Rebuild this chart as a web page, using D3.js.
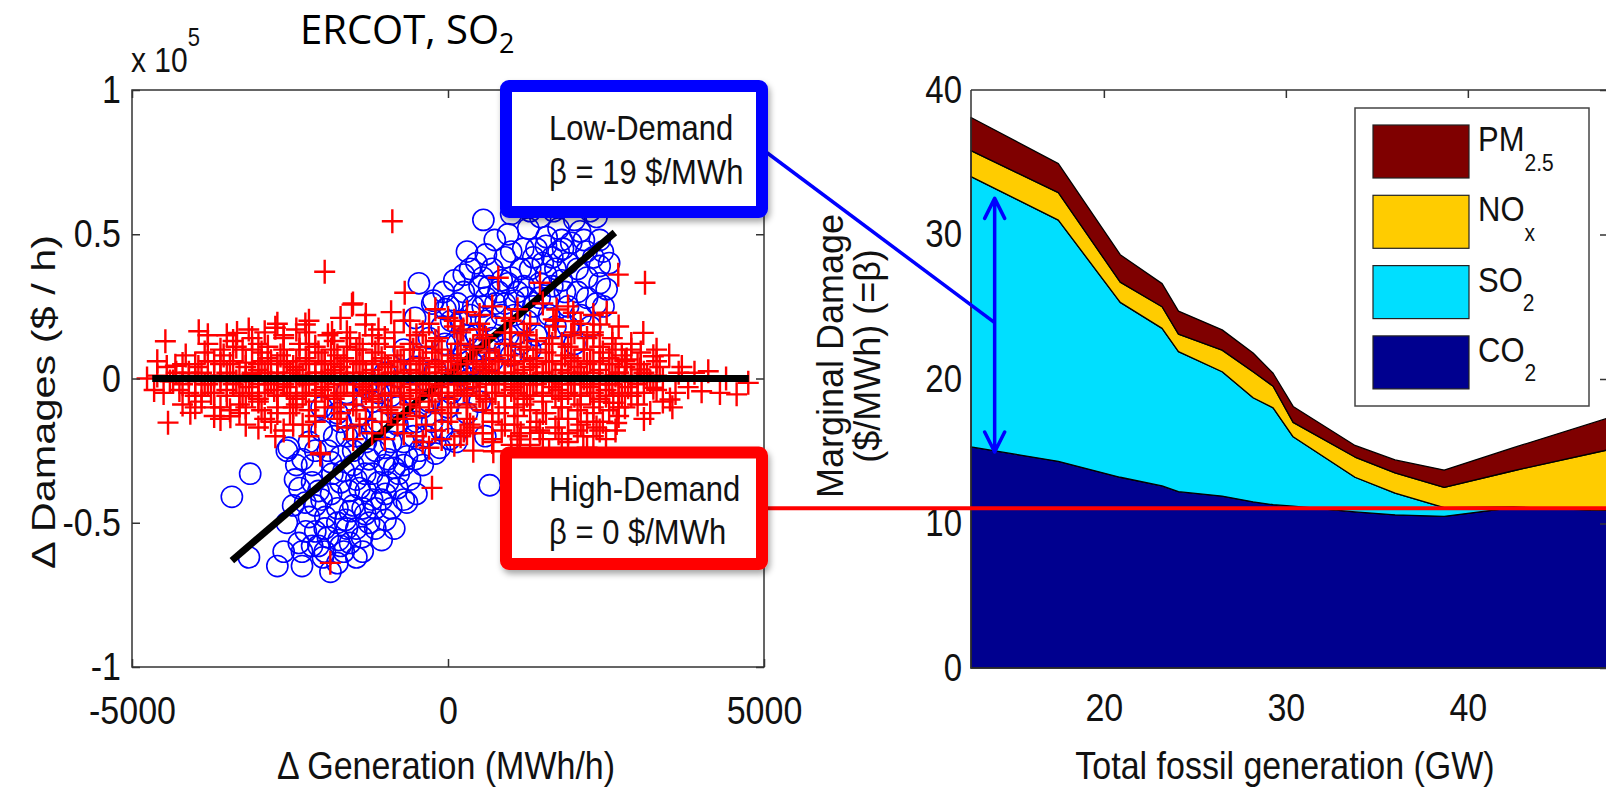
<!DOCTYPE html>
<meta charset="utf-8">
<style>
  body { margin: 0; background: #fff; }
  svg { display: block; }
  .mat { font-family: "Liberation Sans", Arial, Helvetica, sans-serif; fill: #111; }
  .ppt { font-family: "Open Sans", "Liberation Sans", sans-serif; fill: #000; }
</style>
<script src="https://d3js.org/d3.v7.min.js"></script>
<div id="chart"></div>
<script>

// ---------------- data ----------------
// left panel: change in generation (MWh/h) vs change in damages (x 1e5 $/h)
var genTicks = [-5000, 0, 5000];
var dmgTicks = [-1, -0.5, 0, 0.5, 1];

// low-demand hours (blue circles)
var lowDemandPts = [
  [-3420,-0.41],[-3130,-0.33],[-3150,-0.62],[-2700,-0.65],[-2310,-0.65],[-1860,-0.67],[-2310,-0.60],[-2360,-0.57],
  [-2100,-0.53],[-1730,-0.56],[-1360,-0.55],[-990,-0.49],[-650,-0.43],[-200,-0.26],[-2420,-0.35],[-2260,-0.43],
  [-1940,-0.48],[-1620,-0.49],[-1310,-0.47],[-990,-0.40],[-1570,-0.39],[-2050,-0.39],[-1830,-0.33],[-1310,-0.33],
  [-780,-0.33],[-520,-0.28],[-2150,-0.30],[-2550,-0.25],[-2550,-0.50],[-2520,-0.24],[-2200,-0.22],
  [-1980,-0.62],[-1650,-0.60],[-1450,-0.52],[-1750,-0.45],[-1500,-0.44],[-1200,-0.42],[-1100,-0.36],[-1400,-0.38],
  [-1700,-0.36],[-2000,-0.42],[-2200,-0.48],[-1900,-0.55],[-1600,-0.52],[-1250,-0.50],[-900,-0.45],[-800,-0.38],
  [-600,-0.35],[-1000,-0.30],[-1250,-0.28],[-1500,-0.30],[-1700,-0.27],[-1900,-0.25],[-2300,-0.28],[-2000,-0.18],
  [-1600,-0.20],[-1300,-0.22],[-1000,-0.24],[-700,-0.22],[-400,-0.30],[-350,-0.20],[-500,-0.15],[-800,-0.16],
  [-1100,-0.15],[-1400,-0.13],[-1750,-0.12],
  [-1200,-0.08],[-900,-0.06],[-600,-0.05],[-300,-0.08],[0,-0.10],[-100,-0.18],[130,-0.22],[30,-0.21],[-130,-0.24],
  [590,-0.20],[660,-0.37],[300,-0.12],[500,-0.08],[200,0.02],[-200,0.03],[400,0.05],[700,0.06],[-500,0.04],[900,0.10],
  [-460,0.33],[-70,0.30],[-230,0.27],[10,0.25],[-520,0.21],[-250,0.26],[-40,0.24],[300,0.44],[560,0.55],[740,0.48],
  [350,0.38],[1270,0.52],[1560,0.49],[2090,0.51],[2400,0.48],[1190,0.45],[1820,0.45],[2190,0.44],[2400,0.39],
  [2510,0.31],[2350,0.26],[2460,0.25],[2250,0.18],[1670,0.58],[2250,0.58],[1460,0.56],[2350,0.56],[2640,0.62],
  [600,0.43],[900,0.42],[1000,0.35],[1300,0.38],[1550,0.36],[1800,0.34],[2050,0.30],[2200,0.35],[1900,0.40],
  [1650,0.42],[1400,0.45],[1100,0.30],[800,0.30],[600,0.28],[400,0.25],[200,0.20],[-100,0.18],[150,0.12],
  [450,0.15],[750,0.18],[1050,0.22],[1350,0.25],[1600,0.28],[1900,0.25],[2100,0.22],[1700,0.18],[1400,0.15],
  [1150,0.12],[850,0.22],[550,0.35],[950,0.50],[1750,0.52],[2000,0.55],[1300,0.58],[2450,0.44],[2550,0.40],
  [1000,0.57],[1900,0.60],[2150,0.62],
  [300,0.15],[600,0.20],[900,0.26],[1200,0.32],[1500,0.40],[1800,0.48],[700,0.38],[1000,0.44],[1250,0.28],
  [1450,0.33],[1700,0.38],[500,0.32],[250,0.30],[100,0.34],[-300,0.14],[-700,0.10],[-1000,0.02],[-1300,-0.03],
  [-1600,-0.05],[-2000,-0.10],[-1800,-0.20],[-1500,-0.25],[-1200,-0.33],[-950,-0.28],[-650,-0.27],[-450,-0.25],
  [-250,-0.15],[50,-0.05],[350,0.00],[650,0.10],[950,0.15],[-850,-0.52],[-1050,-0.56],[-1450,-0.62],[-1750,-0.64],
  [-2050,-0.58],[-2600,-0.60],[-2450,-0.44],[-2350,-0.38],[-1150,-0.45],[-700,-0.42],[-500,-0.40],
  [350,0.22],[550,0.25],[750,0.26],[950,0.33],[1150,0.38],[1350,0.42],[1550,0.46],[1750,0.44],[1950,0.47],
  [2150,0.48],[2300,0.42],[2050,0.38],[1850,0.30],[1650,0.32],[1450,0.28],[1250,0.20],[1050,0.27],[850,0.34],
  [650,0.32],[450,0.40],[250,0.36],[150,0.26],[-50,0.12],[50,0.20],[250,0.08],[450,0.10],[700,0.14],[1000,0.08],
  [1300,0.10],[1600,0.22],[1900,0.18],[2200,0.28],[2400,0.33],[2000,0.12],
  [-2150,-0.58],[-1950,-0.52],[-1750,-0.50],[-1550,-0.57],[-1350,-0.60],[-1150,-0.52],[-950,-0.36],[-1150,-0.25],
  [-1350,-0.45],[-1550,-0.46],[-1850,-0.40],[-2100,-0.44],[-2250,-0.53],[-1850,-0.29],[-1650,-0.32],[-1450,-0.35],
  [-1300,-0.39],[-1050,-0.42],[-850,-0.31],[-700,-0.30],[-550,-0.20],[-900,-0.22],[-1200,-0.18],[-1450,-0.20],
  [-1700,-0.15],[-2100,-0.25],[-2400,-0.30],[-2150,-0.36],[-1950,-0.60],[-1700,-0.58],[-800,-0.10],[-1100,-0.05],
  [-400,-0.10]
];

// high-demand hours (red pluses)
var highDemandPts = [
  // scattered outliers
  [-881,0.545],[-1951,0.37],[-1503,0.26],[-685,0.297],[796,0.349],[1455,0.332],[2694,0.36],[3117,0.332],
  [1719,0.239],[1983,0.228],[2511,0.228],[-4472,0.129],[-3944,0.164],[-1519,0.256],[-2257,0.187],[-1835,0.158],
  [-1308,0.187],[-3338,0.158],[-3153,0.17],[-2732,0.176],[-4762,0],[-4430,-0.153],[-4077,-0.119],[-3444,-0.131],
  [-2732,-0.2],[-2020,-0.258],[-4314,0.044],[4118,0.025],[4751,-0.015],[4013,-0.044],[4303,-0.05],[4567,-0.055],
  [3512,-0.073],[3249,-0.032],[3090,0.158],[3249,0.077],[3038,0.031],[2827,0.066],[2615,-0.084],[2669,-0.154],
  [2141,-0.2],[1455,-0.188],[1139,-0.211],[717,-0.252],[1666,0.205],[1983,0.199],[2405,0.187],[242,0.17],
  [981,0.158],[-2020,-0.263],[-253,-0.379],[-1862,-0.639],
  // dense band around zero
  [-4600,0.01],[-4350,-0.01],[-4100,0.02],[-3850,-0.02],[-3600,0.01],[-3350,-0.01],[-3100,0.02],[-2850,0.00],
  [-2600,-0.02],[-2350,0.01],[-2100,-0.01],[-1850,0.02],[-1600,0.00],[-1350,-0.02],[-1100,0.01],[-850,-0.01],
  [-600,0.02],[-350,0.00],[-100,-0.02],[150,0.01],[400,-0.01],[650,0.02],[900,0.00],[1150,-0.02],[1400,0.01],
  [1650,-0.01],[1900,0.02],[2150,0.00],[2400,-0.02],[2650,0.01],[2900,-0.01],[3150,0.01],[3400,0.00],[3650,0.02],
  [-4450,0.04],[-4200,0.05],[-3950,0.04],[-3700,0.06],[-3450,0.05],[-3200,0.04],[-2950,0.06],[-2700,0.05],
  [-2450,0.04],[-2200,0.06],[-1950,0.05],[-1700,0.04],[-1450,0.06],[-1200,0.05],[-950,0.04],[-700,0.06],
  [-450,0.05],[-200,0.04],[50,0.06],[300,0.05],[550,0.04],[800,0.06],[1050,0.05],[1300,0.04],[1550,0.06],
  [1800,0.05],[2050,0.04],[2300,0.06],[2550,0.05],[2800,0.04],[3050,0.05],[3350,0.04],
  [-4500,-0.05],[-4250,-0.04],[-4000,-0.06],[-3750,-0.05],[-3500,-0.04],[-3250,-0.06],[-3000,-0.05],[-2750,-0.04],
  [-2500,-0.06],[-2250,-0.05],[-2000,-0.04],[-1750,-0.06],[-1500,-0.05],[-1250,-0.04],[-1000,-0.06],[-750,-0.05],
  [-500,-0.04],[-250,-0.06],[0,-0.05],[250,-0.04],[500,-0.06],[750,-0.05],[1000,-0.04],[1250,-0.06],[1500,-0.05],
  [1750,-0.04],[2000,-0.06],[2250,-0.05],[2500,-0.04],[2750,-0.06],[3000,-0.05],[3300,-0.04],[3600,-0.05],
  [-4150,0.08],[-3850,0.09],[-3550,0.08],[-3250,0.10],[-2950,0.09],[-2650,0.08],[-2350,0.10],[-2050,0.09],
  [-1750,0.08],[-1450,0.10],[-1150,0.09],[-850,0.08],[-550,0.10],[-250,0.09],[50,0.08],[350,0.10],[650,0.09],
  [950,0.08],[1250,0.10],[1550,0.09],[1850,0.08],[2150,0.10],[2450,0.09],[2750,0.08],[3050,0.09],
  [-4200,-0.09],[-3900,-0.08],[-3600,-0.10],[-3300,-0.09],[-3000,-0.08],[-2700,-0.10],[-2400,-0.09],[-2100,-0.08],
  [-1800,-0.10],[-1500,-0.09],[-1200,-0.08],[-900,-0.10],[-600,-0.09],[-300,-0.08],[0,-0.10],[300,-0.09],
  [600,-0.08],[900,-0.10],[1200,-0.09],[1500,-0.08],[1800,-0.10],[2100,-0.09],[2400,-0.08],[2700,-0.10],[3000,-0.09],
  [-3800,0.12],[-3400,0.13],[-3000,0.12],[-2600,0.14],[-2200,0.12],[-1800,0.13],[-1400,0.12],[-1000,0.14],
  [-600,0.12],[-200,0.13],[200,0.12],[600,0.14],[1000,0.12],[1400,0.13],[1800,0.12],[2200,0.14],[2600,0.12],
  [-3700,-0.13],[-3300,-0.12],[-2900,-0.14],[-2500,-0.12],[-2100,-0.13],[-1700,-0.12],[-1300,-0.14],[-900,-0.12],
  [-500,-0.13],[-100,-0.12],[300,-0.14],[700,-0.12],[1100,-0.13],[1500,-0.12],[1900,-0.14],[2300,-0.12],[2700,-0.13],
  [-2900,0.16],[-2400,0.17],[-1600,0.16],[-1100,0.17],[-400,0.16],[100,0.18],[500,0.17],[1200,0.16],[1700,0.18],
  [2000,0.16],[2300,0.15],
  [-3000,-0.17],[-2300,-0.16],[-1600,-0.17],[-800,-0.16],[-200,-0.18],[400,-0.17],[900,-0.16],[1700,-0.17],
  [2200,-0.15],[1300,-0.17],[-1200,-0.19],
  [0,0.21],[-600,0.20],[500,0.22],[1000,0.20],[-1000,-0.21],[-400,-0.22],[200,-0.20],[1000,-0.23],[1800,-0.21],
  [2400,-0.18],[-2600,-0.18],[-3800,0.15],[-4000,-0.1],[-4600,0.06],[-4650,-0.04],[3300,0.10],[3400,-0.08],
  [3200,-0.12],[3700,0.04],[3800,-0.03],[3900,0.02],[4400,0.00],[3550,-0.1],
  [-3000,0.03],[-2700,0.02],[-2400,0.03],[-2100,0.02],[-1800,0.03],[-1500,0.02],[-1200,0.03],[-900,0.02],
  [-600,0.03],[-300,0.02],[0,0.03],[300,0.02],[600,0.03],[900,0.02],[1200,0.03],[1500,0.02],[1800,0.03],
  [2100,0.02],[2400,0.03],[2700,0.02],
  [-3150,-0.03],[-2850,-0.02],[-2550,-0.03],[-2250,-0.02],[-1950,-0.03],[-1650,-0.02],[-1350,-0.03],[-1050,-0.02],
  [-750,-0.03],[-450,-0.02],[-150,-0.03],[150,-0.02],[450,-0.03],[750,-0.02],[1050,-0.03],[1350,-0.02],
  [1650,-0.03],[1950,-0.02],[2250,-0.03],[2550,-0.02],[2850,-0.03],
  [-2850,0.07],[-2550,0.06],[-2250,0.07],[-1950,0.06],[-1650,0.07],[-1350,0.06],[-1050,0.07],[-750,0.06],
  [-450,0.07],[-150,0.06],[150,0.07],[450,0.06],[750,0.07],[1050,0.06],[1350,0.07],[1650,0.06],[1950,0.07],
  [2250,0.06],[2550,0.07],
  [-3000,-0.07],[-2700,-0.06],[-2400,-0.07],[-2100,-0.06],[-1800,-0.07],[-1500,-0.06],[-1200,-0.07],[-900,-0.06],
  [-600,-0.07],[-300,-0.06],[0,-0.07],[300,-0.06],[600,-0.07],[900,-0.06],[1200,-0.07],[1500,-0.06],[1800,-0.07],
  [2100,-0.06],[2400,-0.07],[2700,-0.06],
  [-4300,0.02],[-4100,0.01],[-3900,0.02],[-3700,0.01],[-3500,0.02],[-3300,0.01],[-3100,0.015],[-2900,0.02],
  [-2700,0.01],[-2500,0.02],[-2300,0.01],[-2100,0.02],[-1900,0.01],[-1700,0.02],[-1500,0.01],[-1300,0.02],
  [-1100,0.01],[-900,0.02],[-700,0.01],[-500,0.02],[-300,0.01],[-100,0.02],[100,0.01],[300,0.02],[500,0.01],
  [700,0.02],[900,0.01],[1100,0.02],[1300,0.01],[1500,0.02],[1700,0.01],[1900,0.02],[2100,0.01],[2300,0.02],
  [2500,0.01],[2700,0.02],[2900,0.01],[3100,0.02],[3300,0.01],
  [-4400,-0.01],[-4200,-0.02],[-4000,-0.01],[-3800,-0.02],[-3600,-0.01],[-3400,-0.02],[-3200,-0.01],[-3000,-0.02],
  [-2800,-0.01],[-2600,-0.02],[-2400,-0.01],[-2200,-0.02],[-2000,-0.01],[-1800,-0.02],[-1600,-0.01],[-1400,-0.02],
  [-1200,-0.01],[-1000,-0.02],[-800,-0.01],[-600,-0.02],[-400,-0.01],[-200,-0.02],[0,-0.01],[200,-0.02],
  [400,-0.01],[600,-0.02],[800,-0.01],[1000,-0.02],[1200,-0.01],[1400,-0.02],[1600,-0.01],[1800,-0.02],
  [2000,-0.01],[2200,-0.02],[2400,-0.01],[2600,-0.02],[2800,-0.01],[3000,-0.02],[3200,-0.01],
  [-4000,0.05],[-3800,0.06],[-3600,0.05],[-3400,0.06],[-3200,0.055],[-3000,0.05],[-2800,0.06],[-2600,0.05],
  [-2400,0.06],[-2200,0.05],[-2000,0.06],[-1800,0.05],[-1600,0.06],[-1400,0.05],[-1200,0.06],[-1000,0.05],
  [-800,0.06],[-600,0.05],[-400,0.06],[-200,0.05],[0,0.06],[200,0.05],[400,0.06],[600,0.05],[800,0.06],
  [1000,0.05],[1200,0.06],[1400,0.05],[1600,0.06],[1800,0.05],[2000,0.06],[2200,0.05],[2400,0.06],[2600,0.05],
  [2800,0.06],[3000,0.05],
  [-4100,-0.05],[-3900,-0.06],[-3700,-0.05],[-3500,-0.06],[-3300,-0.05],[-3100,-0.06],[-2900,-0.05],[-2700,-0.06],
  [-2500,-0.05],[-2300,-0.06],[-2100,-0.05],[-1900,-0.06],[-1700,-0.05],[-1500,-0.06],[-1300,-0.05],[-1100,-0.06],
  [-900,-0.05],[-700,-0.06],[-500,-0.05],[-300,-0.06],[-100,-0.05],[100,-0.06],[300,-0.05],[500,-0.06],
  [700,-0.05],[900,-0.06],[1100,-0.05],[1300,-0.06],[1500,-0.05],[1700,-0.06],[1900,-0.05],[2100,-0.06],
  [2300,-0.05],[2500,-0.06],[2700,-0.05],[2900,-0.06],[3100,-0.05],
  [-3600,0.10],[-3350,0.11],[-3100,0.10],[-2850,0.11],[-2600,0.10],[-2350,0.12],[-2100,0.11],[-1850,0.10],
  [-1600,0.11],[-1350,0.10],[-1100,0.12],[-850,0.11],[-600,0.10],[-350,0.11],[-100,0.10],[150,0.12],[400,0.11],
  [650,0.10],[900,0.12],[1150,0.11],[1400,0.10],[1650,0.12],[1900,0.11],[2150,0.10],[2400,0.11],[2650,0.10],
  [2900,0.10],
  [-3700,-0.10],[-3450,-0.11],[-3200,-0.10],[-2950,-0.11],[-2700,-0.12],[-2450,-0.10],[-2200,-0.11],[-1950,-0.10],
  [-1700,-0.12],[-1450,-0.11],[-1200,-0.10],[-950,-0.11],[-700,-0.12],[-450,-0.10],[-200,-0.11],[50,-0.12],
  [300,-0.10],[550,-0.11],[800,-0.12],[1050,-0.10],[1300,-0.11],[1550,-0.12],[1800,-0.10],[2050,-0.11],
  [2300,-0.10],[2550,-0.11],[2800,-0.10],
  [-2600,0.15],[-2250,0.16],[-1900,0.15],[-1550,0.14],[-1200,0.15],[-850,0.16],[-500,0.15],[-150,0.14],
  [200,0.16],[550,0.15],[900,0.16],[1250,0.15],[1600,0.14],[1950,0.15],[2300,0.16],[2600,0.14],
  [-2800,-0.15],[-2450,-0.16],[-2100,-0.15],[-1750,-0.14],[-1400,-0.16],[-1050,-0.15],[-700,-0.14],[-350,-0.16],
  [0,-0.15],[350,-0.16],[700,-0.15],[1050,-0.16],[1400,-0.15],[1750,-0.14],[2100,-0.16],[2450,-0.15],
  [-700,0.20],[-300,0.19],[100,0.20],[500,0.19],[900,0.21],[1300,0.19],[1700,0.20],[2100,0.19],
  [-500,-0.20],[-100,-0.21],[300,-0.19],[700,-0.21],[1100,-0.20],[1500,-0.21],[1900,-0.19],[2300,-0.20],
  // outer fringe of the band
  [100,-0.23],[400,-0.25],[700,-0.22],[1000,-0.26],[1300,-0.23],[1600,-0.25],[1900,-0.22],[2200,-0.24],[2500,-0.21],
  [250,-0.18],[550,-0.19],[850,-0.18],[1150,-0.19],[1450,-0.18],[1750,-0.19],[2050,-0.18],[2350,-0.17],[2650,-0.18],
  [-300,-0.24],[-700,-0.19],[-1500,-0.21],[-2200,-0.20],[-3200,-0.16],[-3600,-0.14],
  [-3500,0.15],[-3100,0.14],[-2700,0.19],[-2200,0.20],[-1700,0.21],[-1300,0.22],[-900,0.23],[-200,0.24],
  [300,0.23],[700,0.25],[1100,0.24],[1500,0.26],[1900,0.25],[2300,0.22],[2700,0.18],[2900,0.12],[3100,-0.14],
  [3300,0.06],[3500,0.08]
];

// fitted lines (slope = beta)
var lowDemandFit = [[-3420,-0.631],[2640,0.506]];
var highDemandFit = [[-4680,0],[4760,0]];

// right panel: marginal damage by pollutant ($/MWh) vs total fossil generation (GW)
var fossilGW = [12.7, 17.5, 20.9, 23.2, 24.1, 26.5, 28.2, 29.3, 30.4, 33.8, 36.0, 38.7, 42.5, 47.7];
var co2Dmg   = [15.3, 14.3, 13.2, 12.6, 12.2, 11.9, 11.5, 11.3, 11.2, 10.8, 10.6, 10.5, 11.1, 10.9];
var so2Dmg   = [18.7, 16.7, 12.1, 10.9,  9.7,  8.6,  7.2,  6.7,  4.8,  2.4,  1.5,  0.6, 0.05,  0.0];
var noxDmg   = [ 1.8,  1.9,  1.4,  1.5,  1.2,  1.5,  1.8,  1.5,  1.0,  1.4,  1.4,  1.4,  2.5,  4.2];
var pm25Dmg  = [ 2.3,  2.0,  1.9,  1.6,  1.6,  1.4,  1.3,  0.9,  1.1,  0.8,  0.9,  1.2,  1.6,  2.2];
var pollutantKeys = ["CO2", "SO2", "NOx", "PM2.5"];
var pollutantMain = ["CO", "SO", "NO", "PM"];
var pollutantSub  = ["2", "2", "x", "2.5"];
var gwTicks = [20, 30, 40];
var mdTicks = [0, 10, 20, 30, 40];

// annotation values on the right panel
var highDemandLevel = 11.05;          // red line ($/MWh)
var so2Span = [14.0, 14.95, 32.5];    // GW, from, to
var lowDemandPointer = [14.0, 23.9];  // GW, $/MWh

// ---------------- drawing ----------------
var W = 1606, H = 789, SY = 1.15;

var svg = d3.select("#chart").append("svg")
    .attr("width", W).attr("height", H);

var defs = svg.append("defs");
defs.append("filter").attr("id", "shadow")
    .attr("x", "-10%").attr("y", "-10%").attr("width", "130%").attr("height", "140%")
  .append("feDropShadow")
    .attr("dx", 2).attr("dy", 4).attr("stdDeviation", 3)
    .attr("flood-color", "#000").attr("flood-opacity", 0.35);

function styleAxis(g, size) {
  g.attr("font-size", size)
   .attr("font-family", "'Liberation Sans', Arial, sans-serif")
   .attr("color", "#333");
  g.select(".domain").remove();
  g.selectAll(".tick line").attr("stroke-width", 1.5);
  g.selectAll(".tick text").attr("fill", "#111").attr("transform", "scale(1," + SY + ")");
}

// ===== left panel =====
var x = d3.scaleLinear().domain([-5000, 5000]).range([132, 764]);
var y = d3.scaleLinear().domain([-1, 1]).range([667, 90]);

var left = svg.append("g");
var fitLine = d3.line().x(function(d) { return x(d[0]); }).y(function(d) { return y(d[1]); });

left.append("g").selectAll("circle")
  .data(lowDemandPts)
  .enter().append("circle")
    .attr("cx", function(d) { return x(d[0]); })
    .attr("cy", function(d) { return y(d[1]); })
    .attr("r", 10.6)
    .attr("fill", "none")
    .attr("stroke", "#0000ff")
    .attr("stroke-width", 1.6);

left.append("path").attr("d", fitLine(lowDemandFit))
  .attr("stroke", "#000").attr("stroke-width", 7).attr("fill", "none");

left.append("g").selectAll("path")
  .data(highDemandPts)
  .enter().append("path")
    .attr("transform", function(d) { return "translate(" + x(d[0]) + "," + y(d[1]) + ")"; })
    .attr("d", "M-10.5,0H10.5M0,-12V12")
    .attr("stroke", "#ff0000")
    .attr("stroke-width", 2.4);

left.append("path").attr("d", fitLine(highDemandFit))
  .attr("stroke", "#000").attr("stroke-width", 7).attr("fill", "none");

left.append("rect")
  .attr("x", x(-5000)).attr("y", y(1))
  .attr("width", x(5000) - x(-5000)).attr("height", y(-1) - y(1))
  .attr("fill", "none").attr("stroke", "#333").attr("stroke-width", 1.5);

left.append("g").attr("transform", "translate(0," + y(-1) + ")")
  .call(d3.axisBottom(x).tickValues(genTicks).tickSizeInner(-8).tickSizeOuter(0).tickPadding(25)
        .tickFormat(function(d) { return String(d); }))
  .call(styleAxis, 34);
left.append("g").attr("transform", "translate(0," + y(1) + ")")
  .call(d3.axisTop(x).tickValues(genTicks).tickSizeInner(-8).tickSizeOuter(0).tickFormat(""))
  .call(styleAxis, 34);
left.append("g").attr("transform", "translate(" + x(-5000) + ",0)")
  .call(d3.axisLeft(y).tickValues(dmgTicks).tickSizeInner(-8).tickSizeOuter(0).tickPadding(11)
        .tickFormat(function(d) { return String(d); }))
  .call(styleAxis, 34);
left.append("g").attr("transform", "translate(" + x(5000) + ",0)")
  .call(d3.axisRight(y).tickValues(dmgTicks).tickSizeInner(-8).tickSizeOuter(0).tickFormat(""))
  .call(styleAxis, 34);

// exponent
var expo = left.append("text").attr("class", "mat").attr("font-size", 30)
  .attr("transform", "translate(131,72) scale(1," + SY + ")");
expo.append("tspan").text("x 10");
expo.append("tspan").attr("font-size", 22).attr("dy", -23).text("5");

left.append("text").attr("class", "mat").attr("font-size", 34)
  .attr("text-anchor", "middle")
  .attr("transform", "translate(446,779) scale(1," + SY + ")")
  .text("\u0394 Generation (MWh/h)");

left.append("text").attr("class", "mat").attr("font-size", 34)
  .attr("text-anchor", "middle")
  .attr("transform", "translate(55,402) scale(1,1.22) rotate(-90)")
  .text("\u0394 Damages ($ / h)");

var title = svg.append("text").attr("class", "ppt").attr("font-size", 40)
  .attr("transform", "translate(300,44)");
title.append("tspan").text("ERCOT, SO");
title.append("tspan").attr("font-size", 27).attr("dy", 9).text("2");

// ===== right panel =====
var xr = d3.scaleLinear().domain([12.7, 47.7]).range([971, 1608]);
var yr = d3.scaleLinear().domain([0, 40]).range([668, 90]);

var rows = fossilGW.map(function(g, i) {
  return { gw: g, "CO2": co2Dmg[i], "SO2": so2Dmg[i], "NOx": noxDmg[i], "PM2.5": pm25Dmg[i] };
});
var layers = d3.stack().keys(pollutantKeys)(rows);
var color = d3.scaleOrdinal().domain(pollutantKeys)
  .range(["#00008f", "#00dfff", "#ffcc00", "#7f0000"]);

var area = d3.area()
  .x(function(d) { return xr(d.data.gw); })
  .y0(function(d) { return yr(d[0]); })
  .y1(function(d) { return yr(d[1]); });

var right = svg.append("g");

right.append("g").attr("transform", "translate(0," + yr(40) + ")")
  .call(d3.axisTop(xr).tickValues(gwTicks).tickSizeInner(-8).tickSizeOuter(0).tickFormat(""))
  .call(styleAxis, 34);

right.append("g").selectAll("path")
  .data(layers)
  .enter().append("path")
    .attr("d", area)
    .attr("fill", function(d) { return color(d.key); })
    .attr("stroke", "#000")
    .attr("stroke-width", 1.3)
    .attr("stroke-linejoin", "round");

right.append("path")
  .attr("d", "M" + xr(12.7) + "," + yr(40) + "V" + yr(0) + "H" + W)
  .attr("fill", "none").attr("stroke", "#333").attr("stroke-width", 1.5);
right.append("path")
  .attr("d", "M" + xr(12.7) + "," + yr(40) + "H" + W)
  .attr("fill", "none").attr("stroke", "#333").attr("stroke-width", 1.5);

right.append("g").attr("transform", "translate(0," + yr(0) + ")")
  .call(d3.axisBottom(xr).tickValues(gwTicks).tickSizeInner(0).tickSizeOuter(0).tickPadding(22))
  .call(styleAxis, 34);
right.append("g").attr("transform", "translate(" + xr(12.7) + ",0)")
  .call(d3.axisLeft(yr).tickValues(mdTicks).tickSizeInner(0).tickSizeOuter(0).tickPadding(9))
  .call(styleAxis, 33);
right.append("g").attr("transform", "translate(" + xr(47.7) + ",0)")
  .call(d3.axisRight(yr).tickValues(mdTicks).tickSizeInner(-8).tickSizeOuter(0).tickFormat(""))
  .call(styleAxis, 34);

right.append("text").attr("class", "mat").attr("font-size", 34)
  .attr("text-anchor", "middle")
  .attr("transform", "translate(1285,779) scale(1," + SY + ")")
  .text("Total fossil generation (GW)");

// legend
var lg = right.append("g").attr("transform", "translate(1355,108)");
lg.append("rect").attr("width", 234).attr("height", 298)
  .attr("fill", "#fff").attr("stroke", "#444").attr("stroke-width", 1.5);
var legendOrder = d3.range(pollutantKeys.length).reverse();
legendOrder.forEach(function(k, i) {
  var row = lg.append("g").attr("transform", "translate(0," + (17 + i * 70.3) + ")");
  row.append("rect").attr("x", 18).attr("width", 96).attr("height", 53)
    .attr("fill", color(pollutantKeys[k])).attr("stroke", "#222").attr("stroke-width", 1.2);
  var t = row.append("text").attr("class", "mat").attr("font-size", 31)
    .attr("transform", "translate(123,26) scale(1," + SY + ")");
  t.append("tspan").text(pollutantMain[k]);
  t.append("tspan").attr("font-size", 21).attr("dy", 17).text(pollutantSub[k]);
});

// y label of right panel
var yl = svg.append("g").attr("class", "mat").attr("font-size", 36).attr("text-anchor", "middle");
yl.append("text").attr("transform", "translate(843,356) rotate(-90)").text("Marginal Damage");
yl.append("text").attr("transform", "translate(880,356) rotate(-90)").text("($/MWh) (=\u03b2)");

// ===== annotations =====
// red connector for high demand
svg.append("line")
  .attr("x1", 768).attr("x2", W)
  .attr("y1", yr(highDemandLevel)).attr("y2", yr(highDemandLevel))
  .attr("stroke", "#ff0000").attr("stroke-width", 4);

// blue connector for low demand
svg.append("line")
  .attr("x1", 766).attr("y1", 152)
  .attr("x2", xr(lowDemandPointer[0])).attr("y2", yr(lowDemandPointer[1]))
  .attr("stroke", "#0000ff").attr("stroke-width", 3.5);

// double arrow spanning the SO2 layer
var ax = xr(so2Span[0]), ay1 = yr(so2Span[2]), ay2 = yr(so2Span[1]);
svg.append("path")
  .attr("d", "M" + ax + "," + ay1 + "V" + ay2 +
             "M" + (ax - 10) + "," + (ay1 + 20) + "L" + ax + "," + ay1 + "L" + (ax + 10) + "," + (ay1 + 20) +
             "M" + (ax - 10) + "," + (ay2 - 20) + "L" + ax + "," + ay2 + "L" + (ax + 10) + "," + (ay2 - 20))
  .attr("fill", "none").attr("stroke", "#0000ff").attr("stroke-width", 3.5)
  .attr("stroke-linejoin", "round").attr("stroke-linecap", "round");

function callout(yTop, h, col, line1, line2, b1, b2) {
  svg.append("rect")
    .attr("x", 506).attr("y", yTop).attr("width", 256).attr("height", h).attr("rx", 3)
    .attr("fill", "#fff").attr("stroke", col).attr("stroke-width", 12)
    .attr("filter", "url(#shadow)");
  svg.append("text").attr("class", "mat").attr("font-size", 31)
    .attr("transform", "translate(549," + b1 + ") scale(1,1.12)").text(line1);
  svg.append("text").attr("class", "mat").attr("font-size", 31)
    .attr("transform", "translate(549," + b2 + ") scale(1,1.12)").text(line2);
}
callout(86, 126, "#0000ff", "Low-Demand", "\u03b2 = 19 $/MWh", 140, 184);
callout(452.5, 111.5, "#ff0000", "High-Demand", "\u03b2 = 0 $/MWh", 501, 544);

</script>
